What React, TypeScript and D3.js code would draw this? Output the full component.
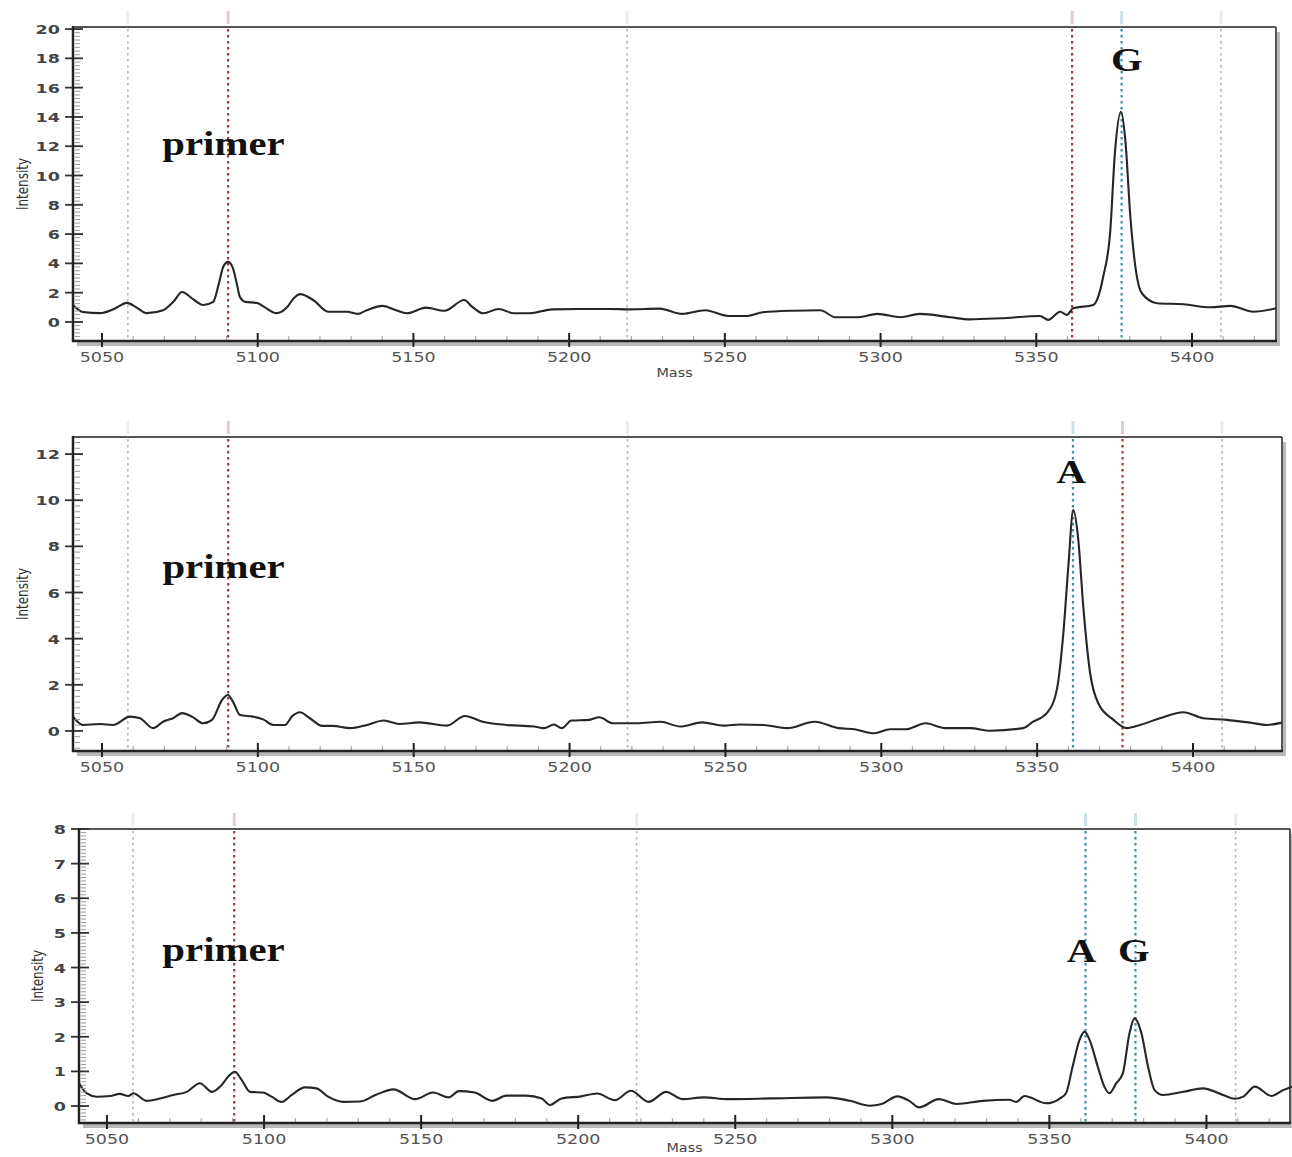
import React from "react";
import * as d3 from "d3";

// marker masses shared by all three spectra
const markerMasses = [5058.3, 5090.5, 5218.6, 5361.5, 5377.4, 5409.3];
const markerKindsG = ["gray", "red", "gray", "red", "blue", "gray"];
const markerKindsA = ["gray", "red", "gray", "blue", "red", "gray"];
const markerKindsAG = ["gray", "red", "gray", "blue", "blue", "gray"];

const massTicks = [5050, 5100, 5150, 5200, 5250, 5300, 5350, 5400];

const spectrumG: [number, number][] = [
  [5040.7, 1.16], [5043.9, 0.68], [5049.4, 0.6], [5054, 0.9], [5058, 1.3], [5061, 1.0],
  [5064.4, 0.6], [5069.6, 0.8], [5073, 1.4], [5075.7, 2.05], [5079, 1.6], [5082.5, 1.16],
  [5085.7, 1.37], [5087.5, 2.6], [5089, 3.8], [5090.5, 4.1], [5092, 3.7], [5093.2, 2.7],
  [5094.3, 1.7], [5096, 1.37], [5099.8, 1.3], [5102.3, 1.0], [5106, 0.6], [5109.4, 1.0],
  [5111.5, 1.6], [5113.6, 1.9], [5117.8, 1.5], [5122.6, 0.7], [5128.7, 0.7], [5132, 0.55],
  [5135, 0.8], [5140, 1.1], [5144.2, 0.82], [5147.9, 0.59], [5154, 0.98], [5160, 0.77],
  [5166.3, 1.5], [5168.8, 1.05], [5172.4, 0.59], [5177.4, 0.89], [5182.3, 0.59], [5187.2, 0.59],
  [5194.6, 0.86], [5203.2, 0.89], [5213, 0.89], [5219.2, 0.86], [5229, 0.91], [5236.3, 0.55],
  [5243.7, 0.8], [5251, 0.41], [5257.2, 0.41], [5262.2, 0.66], [5272, 0.77], [5280.6, 0.8],
  [5285.5, 0.32], [5292.8, 0.32], [5299, 0.55], [5306.4, 0.32], [5312.6, 0.55], [5322.4, 0.32],
  [5328.6, 0.18], [5338.4, 0.25], [5351.2, 0.41], [5353.8, 0.14], [5357.7, 0.7], [5359.8, 0.48],
  [5361.8, 0.93], [5368.3, 1.16], [5370, 1.8], [5371.5, 3.1], [5373.7, 6.07], [5375.3, 11.7],
  [5377.2, 14.35], [5378.6, 12.4], [5380.2, 7.2], [5381.8, 3.8], [5383.9, 1.96], [5388.8, 1.28],
  [5397.3, 1.21], [5405.9, 1.0], [5412.3, 1.1], [5419.7, 0.7], [5427, 0.93],
];

const spectrumA: [number, number][] = [
  [5040.7, 0.62], [5043.9, 0.26], [5049.4, 0.3], [5053.5, 0.26], [5059, 0.62], [5062.2, 0.55],
  [5066.4, 0.12], [5069.6, 0.4], [5072.8, 0.55], [5075.7, 0.77], [5078.9, 0.62], [5082.4, 0.33],
  [5085.3, 0.48], [5088.5, 1.34], [5090.4, 1.56], [5092, 1.27], [5094.3, 0.69], [5098.4, 0.62],
  [5101.7, 0.5], [5104.9, 0.26], [5108.7, 0.26], [5110.9, 0.62], [5113.5, 0.81], [5116.7, 0.55],
  [5120.6, 0.22], [5124, 0.22], [5129.6, 0.12], [5135, 0.26], [5140.4, 0.45], [5145.4, 0.3],
  [5151.8, 0.37], [5160.7, 0.23], [5166.4, 0.65], [5172.1, 0.4], [5179.7, 0.26], [5188.6, 0.19],
  [5191.8, 0.12], [5195, 0.28], [5197.5, 0.12], [5200.6, 0.45], [5206.3, 0.48], [5209.5, 0.59],
  [5214, 0.33], [5221.6, 0.33], [5229.2, 0.4], [5235.5, 0.19], [5242.5, 0.37], [5249.5, 0.23],
  [5254.6, 0.28], [5262.2, 0.26], [5269.8, 0.12], [5278.6, 0.4], [5286.3, 0.12], [5291.4, 0.07],
  [5297.7, -0.1], [5302.8, 0.07], [5307.9, 0.07], [5314.2, 0.33], [5320.5, 0.12], [5328.5, 0.12],
  [5334.9, 0.01], [5345.5, 0.12], [5348.7, 0.4], [5353.1, 0.77], [5356.3, 1.78], [5358.4, 4.23],
  [5360, 7.12], [5361.6, 9.58], [5363.2, 8.28], [5364.8, 5.39], [5367, 2.5], [5369.6, 1.2],
  [5374.5, 0.48], [5378.7, 0.12], [5383, 0.26], [5389.4, 0.55], [5396.9, 0.81], [5403.3, 0.55],
  [5410.8, 0.48], [5418.3, 0.36], [5423.7, 0.26], [5428.5, 0.36],
];

const spectrumAG: [number, number][] = [
  [5041.1, 0.66], [5043.5, 0.37], [5046.7, 0.27], [5051, 0.29], [5054.1, 0.35], [5056.8, 0.29],
  [5058.4, 0.37], [5062.6, 0.15], [5066.9, 0.22], [5071.1, 0.32], [5075.4, 0.41], [5079.6, 0.66],
  [5083.4, 0.41], [5086.5, 0.61], [5088.6, 0.85], [5090.7, 0.99], [5092.9, 0.75], [5095.5, 0.41],
  [5099.7, 0.39], [5102.4, 0.27], [5105.6, 0.12], [5108.8, 0.32], [5113, 0.54], [5116.7, 0.51],
  [5120.4, 0.27], [5125.2, 0.12], [5130.5, 0.13], [5135.5, 0.32], [5141.2, 0.48], [5148.1, 0.2],
  [5153.8, 0.39], [5158.8, 0.25], [5162, 0.43], [5167, 0.39], [5172.7, 0.15], [5177.1, 0.3],
  [5183.4, 0.3], [5188.4, 0.22], [5191, 0.03], [5194.7, 0.22], [5201, 0.28], [5206, 0.36],
  [5211.7, 0.17], [5216.8, 0.44], [5222.4, 0.12], [5228, 0.41], [5233.1, 0.2], [5240, 0.25],
  [5247.6, 0.2], [5261.4, 0.22], [5279, 0.25], [5286.5, 0.15], [5292.8, 0.01], [5296.6, 0.06],
  [5301.6, 0.28], [5305.4, 0.15], [5308.5, -0.04], [5314.8, 0.2], [5320.5, 0.06], [5328.8, 0.15],
  [5337.3, 0.18], [5339.4, 0.12], [5342.1, 0.29], [5349, 0.08], [5353.2, 0.21], [5355.3, 0.37],
  [5357.4, 1.14], [5359.6, 1.91], [5361.2, 2.15], [5362.8, 1.91], [5365.4, 1.14], [5367.5, 0.56],
  [5369.1, 0.37], [5371.3, 0.66], [5373.4, 0.95], [5375.5, 2.1], [5377.1, 2.53], [5379.3, 2.1],
  [5381.4, 1.14], [5383.5, 0.46], [5386.2, 0.32], [5392.6, 0.41], [5398.9, 0.51], [5405.3, 0.32],
  [5409, 0.21], [5411.7, 0.27], [5415.4, 0.56], [5420.7, 0.29], [5424.4, 0.46], [5427.2, 0.56],
];

// annotations: text, mass, intensity (baseline)
const labelsG: [string, number, number][] = [["primer", 5089, 11.4], ["G", 5379.1, 17.13]];
const labelsA: [string, number, number][] = [["primer", 5089, 6.63], ["A", 5360.9, 10.74]];
const labelsAG: [string, number, number][] = [["primer", 5087.1, 4.2], ["A", 5360.2, 4.16], ["G", 5376.9, 4.16]];

const markerColor: Record<string, string> = { red: "#983a3a", blue: "#3a8aa3", gray: "#b5b5b5" };

const panels = [
  { left: 73, right: 1276, top: 27, bottom: 341, mass: [5040.69, 5426.97], y: [-1.3, 20.14], yMax: 20, yStep: 2, minor: 0.25, data: spectrumG, kinds: markerKindsG, labels: labelsG, massLabel: true, titleX: 23 },
  { left: 73, right: 1282, top: 437, bottom: 751, mass: [5040.7, 5428.55], y: [-0.87, 12.74], yMax: 12, yStep: 2, minor: 0.25, data: spectrumA, kinds: markerKindsA, labels: labelsA, massLabel: false, titleX: 23 },
  { left: 79, right: 1290, top: 829, bottom: 1123, mass: [5041.09, 5426.6], y: [-0.49, 8.0], yMax: 8, yStep: 1, minor: 0.1, data: spectrumAG, kinds: markerKindsAG, labels: labelsAG, massLabel: true, titleX: 38 },
];

const tickFont = "'DejaVu Sans', Verdana, sans-serif";

function Panel({ p }: { p: (typeof panels)[number] }) {
  const x = d3.scaleLinear().domain(p.mass).range([p.left, p.right]);
  const y = d3.scaleLinear().domain(p.y).range([p.bottom, p.top]);
  const line = d3
    .line<[number, number]>()
    .x((d) => x(d[0]))
    .y((d) => y(d[1]))
    .curve(d3.curveMonotoneX);
  const majors = d3.range(0, p.yMax + 0.001, p.yStep);
  const minors = d3.range(Math.ceil(p.y[0] / p.minor) * p.minor, p.y[1], p.minor);
  const minorMass = d3.range(5050, p.mass[1], 10);
  const w = p.right - p.left;
  const h = p.bottom - p.top;
  return (
    <g>
      {/* drop shadow + frame */}
      <rect x={p.left + 4} y={p.top + 5} width={w} height={h} fill="#b9b9b9" />
      <rect x={p.left} y={p.top} width={w} height={h} fill="#fff" />
      <line x1={p.left} x2={p.right} y1={p.top} y2={p.top} stroke="#555" strokeWidth={2} />
      <line x1={p.right} x2={p.right} y1={p.top} y2={p.bottom} stroke="#555" strokeWidth={2} />

      {/* marker lines */}
      {markerMasses.map((m, i) => (
        <g key={"m" + i}>
          <line x1={x(m)} x2={x(m)} y1={p.top - 16} y2={p.top - 3} stroke={markerColor[p.kinds[i]]} strokeWidth={3} opacity={0.25} />
          <line
            x1={x(m)}
            x2={x(m)}
            y1={p.top + 2}
            y2={p.bottom}
            stroke={markerColor[p.kinds[i]]}
            strokeWidth={p.kinds[i] === "gray" ? 1.6 : 2.2}
            strokeDasharray="2.5,3.5"
          />
        </g>
      ))}

      {/* spectrum */}
      <path d={line(p.data) || ""} fill="none" stroke="#262626" strokeWidth={2.1} strokeLinejoin="round" />

      {/* y axis */}
      {minors.map((v, i) => (
        <line key={"yn" + i} x1={p.left + 2} x2={p.left + 7} y1={y(v)} y2={y(v)} stroke="#999" strokeWidth={1} />
      ))}
      {majors.map((v) => (
        <g key={"y" + v}>
          <line x1={p.left - 8} x2={p.left + 10} y1={y(v)} y2={y(v)} stroke="#333" strokeWidth={1.8} />
          <text
            transform={`translate(${p.left - 13},${y(v) + 5}) scale(1.35,1)`}
            textAnchor="end"
            fontFamily={tickFont}
            fontWeight="bold"
            fontSize={13}
            fill="#444"
          >
            {v}
          </text>
        </g>
      ))}
      <line x1={p.left} x2={p.left} y1={p.top - 1} y2={p.bottom + 1} stroke="#222" strokeWidth={2.5} />

      {/* x axis */}
      {minorMass.map((m) => (
        <line key={"xn" + m} x1={x(m)} x2={x(m)} y1={p.bottom - 5} y2={p.bottom} stroke="#aaa" strokeWidth={1.2} />
      ))}
      {massTicks.map((m) => (
        <g key={"x" + m}>
          <line x1={x(m)} x2={x(m)} y1={p.bottom - 8} y2={p.bottom + 6} stroke="#222" strokeWidth={2} />
          <text
            transform={`translate(${x(m)},${p.bottom + 21}) scale(1.25,1)`}
            textAnchor="middle"
            fontFamily={tickFont}
            fontSize={14}
            fill="#555"
          >
            {m}
          </text>
        </g>
      ))}
      <line x1={p.left - 1} x2={p.right + 1} y1={p.bottom} y2={p.bottom} stroke="#222" strokeWidth={2.5} />

      {/* axis titles */}
      <text
        transform={`translate(${p.titleX + 5},${(p.top + p.bottom) / 2}) scale(1.35,1) rotate(-90)`}
        textAnchor="middle"
        fontFamily={tickFont}
        fontSize={12}
        fill="#333"
      >
        Intensity
      </text>
      {p.massLabel && (
        <text
          transform={`translate(${(p.left + p.right) / 2},${Math.min(p.bottom + 36, 1152)}) scale(1.2,1)`}
          textAnchor="middle"
          fontFamily={tickFont}
          fontSize={12}
          fill="#444"
        >
          Mass
        </text>
      )}

      {/* peak labels */}
      {p.labels.map(([t, m, v]) => (
        <text
          key={t}
          transform={`translate(${x(m)},${y(v)}) scale(1.2,1)`}
          textAnchor="middle"
          fontFamily="'Liberation Serif', 'Times New Roman', serif"
          fontWeight="bold"
          fontSize={34}
          fill="#111"
        >
          {t}
        </text>
      ))}
    </g>
  );
}

export default function App() {
  return (
    <svg
      width={1292}
      height={1157}
      style={{ position: "absolute", left: 0, top: 0, background: "#fff" }}
    >
      <rect width={1292} height={1157} fill="#fff" />
      {panels.map((p, i) => (
        <Panel key={i} p={p} />
      ))}
    </svg>
  );
}
